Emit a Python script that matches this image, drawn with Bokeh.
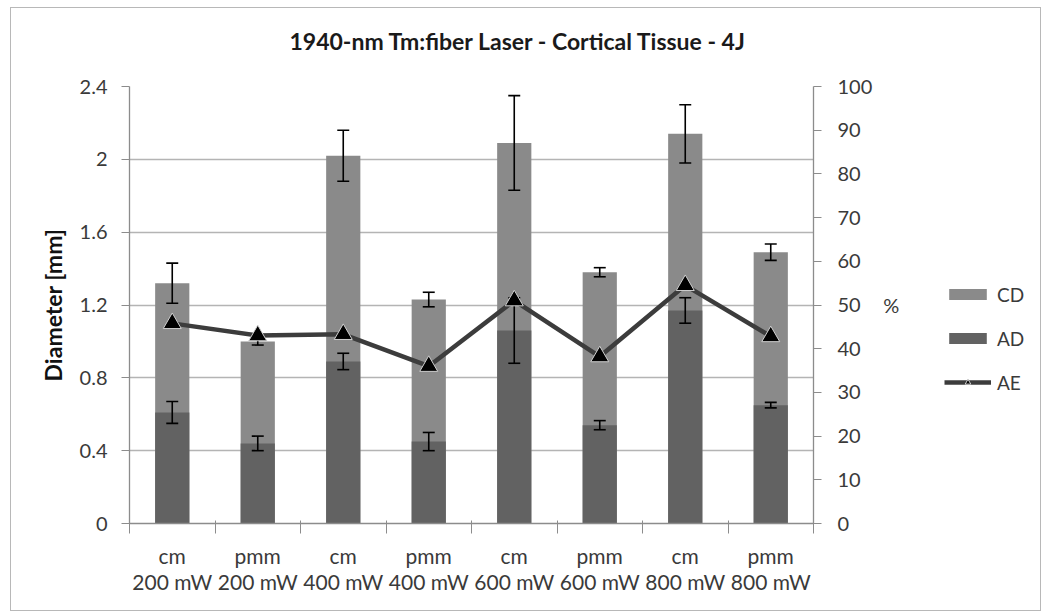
from bokeh.plotting import figure
from bokeh.layouts import row
from bokeh.models import Range1d, LinearAxis, FixedTicker, ColumnDataSource, Legend, LegendItem, Title
from bokeh.embed import file_html
from bokeh.resources import INLINE

# ---- data ----
categories = ["cm\n200 mW", "pmm\n200 mW", "cm\n400 mW", "pmm\n400 mW",
              "cm\n600 mW", "pmm\n600 mW", "cm\n800 mW", "pmm\n800 mW"]
cd = [1.32, 1.00, 2.02, 1.23, 2.09, 1.38, 2.14, 1.49]
cd_err = [0.11, 0.02, 0.14, 0.04, 0.26, 0.025, 0.16, 0.045]
ad = [0.61, 0.44, 0.89, 0.45, 1.06, 0.54, 1.17, 0.65]
ad_err = [0.06, 0.04, 0.045, 0.05, 0.18, 0.025, 0.07, 0.015]
ae = [45.8, 43.0, 43.3, 36.0, 51.0, 38.2, 54.5, 42.8]
left_ticks = [0, 0.4, 0.8, 1.2, 1.6, 2.0, 2.4]
left_labels = ["0", "0.4", "0.8", "1.2", "1.6", "2", "2.4"]
right_ticks = [0, 10, 20, 30, 40, 50, 60, 70, 80, 90, 100]
series_names = ["CD", "AD", "AE"]

FONT = "Lato"
TXT = "#3a3a3a"
AXC = "#8c8c8c"
CD_COL = "#8a8a8a"
AD_COL = "#626262"
AE_COL = "#3c3c3c"

x = list(range(len(categories)))
bounds = [i - 0.5 for i in range(len(categories) + 1)]
cap = 0.07

src = ColumnDataSource(dict(
    x=x, cd=cd, ad=ad, ae=ae,
    cd_lo=[v - e for v, e in zip(cd, cd_err)], cd_hi=[v + e for v, e in zip(cd, cd_err)],
    ad_lo=[v - e for v, e in zip(ad, ad_err)], ad_hi=[v + e for v, e in zip(ad, ad_err)],
    xl=[i - cap for i in x], xr=[i + cap for i in x],
))

p = figure(width=910, height=602, output_backend="svg", toolbar_location=None,
           x_range=Range1d(-0.5, 7.5), y_range=Range1d(0, 2.4),
           min_border_left=118, min_border_right=108, min_border_top=78, min_border_bottom=87)
p.extra_y_ranges = {"pct": Range1d(0, 100)}
p.outline_line_color = None
p.background_fill_color = "white"
p.border_fill_color = "white"

# spacer between plot area and title (nearest the frame)
p.add_layout(Title(text=" ", text_font_size="10px", standoff=19), "above")

p.title.text = "1940-nm Tm:fiber Laser - Cortical Tissue - 4J"
p.title.align = "left"
p.title.offset = 160
p.title.vertical_align = "bottom"
p.title.standoff = 0
p.title.text_font = FONT
p.title.text_font_size = "23px"
p.title.text_font_style = "bold"
p.title.text_color = "#1a1a1a"

# bars
p.vbar(x="x", top="cd", bottom=0, width=0.4, source=src, fill_color=CD_COL, line_color=None)
p.vbar(x="x", top="ad", bottom=0, width=0.4, source=src, fill_color=AD_COL, line_color=None)

# error bars
for lo, hi in (("cd_lo", "cd_hi"), ("ad_lo", "ad_hi")):
    p.segment(x0="x", y0=lo, x1="x", y1=hi, source=src, line_color="black", line_width=1.6)
    p.segment(x0="xl", y0=lo, x1="xr", y1=lo, source=src, line_color="black", line_width=1.6)
    p.segment(x0="xl", y0=hi, x1="xr", y1=hi, source=src, line_color="black", line_width=1.6)

# AE line
p.line(x="x", y="ae", source=src, y_range_name="pct", line_color=AE_COL, line_width=4.5)
p.scatter(x="x", y="ae", source=src, y_range_name="pct", marker="triangle", size=18,
          fill_color="black", line_color="#cfcfcf", line_width=1)

# axes
p.xgrid.visible = False
p.ygrid.ticker = FixedTicker(ticks=left_ticks)
p.ygrid.grid_line_color = "#b4b4b4"
p.ygrid.grid_line_width = 1.3

ya = p.yaxis[0]
ya.ticker = FixedTicker(ticks=left_ticks)
ya.major_label_overrides = dict(zip(left_ticks, left_labels))
ya.axis_line_color = AXC
ya.axis_line_width = 1.3
ya.major_tick_line_color = AXC
ya.major_tick_out = 8
ya.major_tick_in = 0
ya.minor_tick_line_color = None
ya.major_label_standoff = 14
ya.major_label_text_font = FONT
ya.major_label_text_font_size = "20px"
ya.major_label_text_color = TXT
ya.axis_label = "Diameter [mm]"
ya.axis_label_text_font = FONT
ya.axis_label_text_font_size = "23px"
ya.axis_label_text_font_style = "bold"
ya.axis_label_text_color = "#111111"
ya.axis_label_standoff = 10

ra = LinearAxis(y_range_name="pct", ticker=FixedTicker(ticks=right_ticks))
ra.axis_line_color = AXC
ra.axis_line_width = 1.3
ra.major_tick_line_color = AXC
ra.major_tick_out = 8
ra.major_tick_in = 0
ra.minor_tick_line_color = None
ra.major_label_standoff = 16
ra.major_label_text_font = FONT
ra.major_label_text_font_size = "20px"
ra.major_label_text_color = TXT
ra.axis_label = "%"
ra.axis_label_text_font = FONT
ra.axis_label_text_font_size = "20px"
ra.axis_label_text_font_style = "normal"
ra.axis_label_text_color = TXT
ra.axis_label_standoff = 8
if "axis_label_orientation" in ra.properties():
    ra.axis_label_orientation = "horizontal"
p.add_layout(ra, "right")

xa = p.xaxis[0]
xa.ticker = FixedTicker(ticks=x, minor_ticks=bounds)
xa.major_label_overrides = dict(zip(x, categories))
xa.axis_line_color = AXC
xa.axis_line_width = 1.3
xa.major_tick_out = 0
xa.major_tick_in = 0
xa.major_tick_line_color = None
xa.minor_tick_line_color = AXC
xa.minor_tick_out = 10
xa.minor_tick_in = 3
xa.major_label_standoff = 9
xa.major_label_text_font = FONT
xa.major_label_text_font_size = "21px"
xa.major_label_text_color = TXT
xa.major_label_text_line_height = 1.05

# ---- legend panel (keys only; key renderers are hidden) ----
q = figure(width=119, height=602, output_backend="svg", toolbar_location=None,
           x_range=Range1d(0, 1), y_range=Range1d(0, 1),
           x_axis_type=None, y_axis_type=None,
           min_border_left=0, min_border_right=0, min_border_top=0, min_border_bottom=0)
q.outline_line_color = None
q.grid.visible = False
q.background_fill_color = "white"
q.border_fill_color = "white"
k_cd = q.vbar(x=[0.5], top=[0.5], width=0.4, fill_color=CD_COL, line_color=None, visible=False)
k_ad = q.vbar(x=[0.5], top=[0.5], width=0.4, fill_color=AD_COL, line_color=None, visible=False)
k_ael = q.line(x=[0.4, 0.6], y=[0.5, 0.5], line_color=AE_COL, line_width=4.5, visible=False)
k_aes = q.scatter(x=[0.5], y=[0.5], marker="triangle", size=14, fill_color="black",
                  line_color="#cfcfcf", line_width=1, visible=False)

legend = Legend(items=[LegendItem(label=series_names[0], renderers=[k_cd]),
                       LegendItem(label=series_names[1], renderers=[k_ad]),
                       LegendItem(label=series_names[2], renderers=[k_ael, k_aes])],
                location=(23, 129), glyph_width=47, glyph_height=14, label_height=24,
                spacing=20, padding=0, margin=0, border_line_color=None,
                background_fill_alpha=0, label_text_font=FONT, label_text_font_size="19px",
                label_text_color=TXT, label_standoff=6)
q.add_layout(legend, "center")

lay = row(p, q)
lay.styles = {"border": "1px solid #b8b8b8", "margin": "7px 0 0 10px"}

open("out.html", "w").write(file_html(lay, INLINE))
